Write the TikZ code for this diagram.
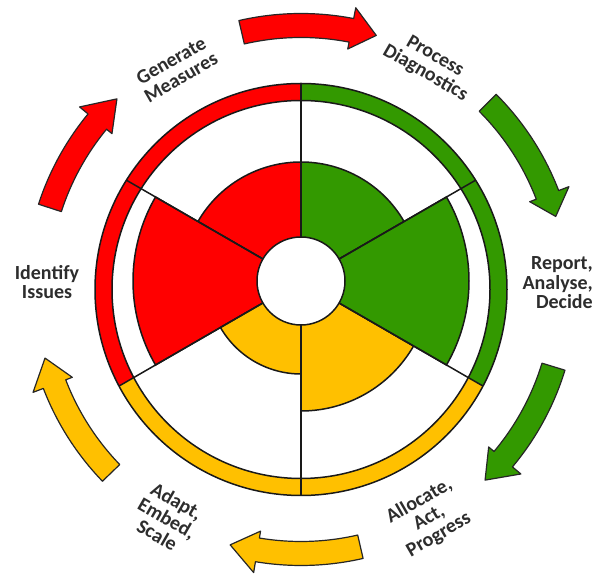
\documentclass[tikz,border=0pt]{standalone}
\usepackage{fontspec}
\setmainfont{Carlito}
\definecolor{cred}{RGB}{255,0,0}
\definecolor{cgreen}{RGB}{51,153,0}
\definecolor{cyellow}{RGB}{255,192,0}
\definecolor{ctext}{RGB}{45,45,45}
\newcommand{\ringarrow}[4]{%
  \filldraw[arr, fill=#1] (#2:276) arc[start angle=#2, end angle=#3, radius=276]
    -- (#3:287) -- (#4:265) -- (#3:245) -- (#3:252)
    arc[start angle=#3, end angle=#2, radius=252] -- cycle;}
\begin{document}
\begin{tikzpicture}[x=1pt,y=1pt,
  lbl/.style={font=\fontsize{20}{19.5}\selectfont\bfseries, text=ctext, align=center, inner sep=0pt},
  edge/.style={draw=black!90, line width=1.5pt},
  arr/.style={draw=black!85, line width=1.2pt, line join=round}]
\useasboundingbox (0,0) rectangle (600,575);
\fill[white] (0,0) rectangle (600,575);
\coordinate (C1) at (301,294);
\coordinate (C2) at (301,285.5);
% outer ring
\begin{scope}
  \clip (C2) circle[radius=206];
  \fill[cgreen] (C1) -- ++(-30:300) arc[start angle=-30, end angle=90, radius=300] -- cycle;
  \fill[cred] (C1) -- ++(90:300) arc[start angle=90, end angle=210, radius=300] -- cycle;
  \fill[cyellow] (C1) -- ++(210:300) arc[start angle=210, end angle=330, radius=300] -- cycle;
\end{scope}
\fill[white] (C2) circle[radius=189];
% inner sectors
\filldraw[edge, fill=cgreen] (C1) -- ++(30:119) arc[start angle=30, end angle=90, radius=119] -- cycle;
\filldraw[edge, fill=cred] (C1) -- ++(90:119) arc[start angle=90, end angle=150, radius=119] -- cycle;
\filldraw[edge, fill=cred] (C1) -- ++(150:168) arc[start angle=150, end angle=210, radius=168] -- cycle;
\filldraw[edge, fill=cyellow] (C1) -- ++(210:93) arc[start angle=210, end angle=270, radius=93] -- cycle;
\filldraw[edge, fill=cyellow] (C1) -- ++(270:130) arc[start angle=270, end angle=330, radius=130] -- cycle;
\filldraw[edge, fill=cgreen] (C1) -- ++(-30:168) arc[start angle=-30, end angle=30, radius=168] -- cycle;
% radial lines
\begin{scope}
  \clip (C2) circle[radius=206];
  \foreach \a in {30,90,...,330} \draw[edge] (C1) -- ++(\a:260);
\end{scope}
\draw[edge] (C2) circle[radius=206];
\draw[edge] (C2) circle[radius=189];
\filldraw[edge, fill=white] (C1) circle[radius=44];
% arrows
\begin{scope}[shift={(C2)}]
  \ringarrow{cred}{103}{79}{73.5}
  \ringarrow{cgreen}{45}{21}{16}
  \ringarrow{cgreen}{-17}{-40}{-46}
  \ringarrow{cyellow}{-77}{-99.5}{-105.5}
  \ringarrow{cyellow}{224}{201}{195}
  \ringarrow{cred}{162}{140.5}{134}
\end{scope}
% labels
\node[lbl, rotate=30] (gen) at (176,506) {Generate\\Measures};
\node[lbl, rotate=-30] (proc) at (430,510) {Process\\Diagnostics};
\node[lbl, anchor=east, align=right] (rep) at (593,292) {Report,\\Analyse,\\Decide};
\node[lbl, rotate=30] (alloc) at (429,57) {Allocate,\\Act,\\Progress};
\node[lbl, rotate=-30] (adapt) at (167,57) {Adapt,\\Embed,\\Scale};
\node[lbl] (ident) at (47,293) {Identify\\Issues};
\end{tikzpicture}
\end{document}
